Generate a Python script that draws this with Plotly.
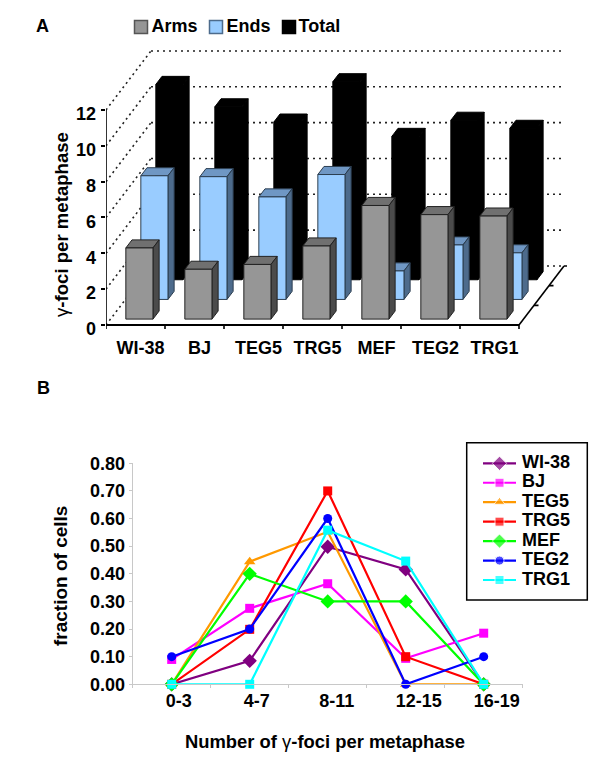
import plotly.graph_objects as go

FONT = "Liberation Sans"
W, H = 600, 766

# ---------- Panel A data ----------
cells = ["WI-38", "BJ", "TEG5", "TRG5", "MEF", "TEG2", "TRG1"]
arms = [3.97, 2.78, 3.05, 4.08, 6.34, 5.83, 5.75]
ends = [6.90, 6.85, 5.72, 6.97, 1.59, 3.04, 2.60]
total = [10.9, 9.65, 8.80, 11.05, 8.00, 8.90, 8.45]
y_ticks_a = [0, 2, 4, 6, 8, 10, 12]

# ---------- Panel B data ----------
bins = ["0-3", "4-7", "8-11", "12-15", "16-19"]
wi38 = [0.00, 0.085, 0.498, 0.416, 0.00]
bj = [0.09, 0.275, 0.364, 0.094, 0.185]
teg5 = [0.00, 0.444, 0.552, 0.00, 0.00]
trg5 = [0.00, 0.199, 0.70, 0.10, 0.00]
mef = [0.00, 0.40, 0.30, 0.30, 0.00]
teg2 = [0.10, 0.20, 0.60, 0.00, 0.10]
trg1 = [0.00, 0.00, 0.558, 0.446, 0.00]
y_ticks_b = [0, 0.1, 0.2, 0.3, 0.4, 0.5, 0.6, 0.7, 0.8]

# ---------- oblique projection for the 3-D look of panel A ----------
CAT_PX, UNIT_PX = 59.0, 17.92
DX = 15.0 / CAT_PX      # x shift per depth row
DY = 19.67 / UNIT_PX    # y shift per depth row
ROWS = 3


def proj(x, z, v):
    return x + z * DX, v + z * DY


def poly(points):
    xs, ys = [], []
    for (x, z, v) in points:
        a, b = proj(x, z, v)
        xs.append(a)
        ys.append(b)
    xs.append(xs[0]); ys.append(ys[0])
    return xs, ys


def faces(values, row):
    z0, z1 = row + 0.30, row + 0.71
    out = {"front": ([], []), "top": ([], []), "side": ([], [])}
    for i, v in enumerate(values):
        x0, x1 = i + 0.26, i + 0.72
        shapes = {
            "front": [(x0, z0, 0), (x1, z0, 0), (x1, z0, v), (x0, z0, v)],
            "top": [(x0, z0, v), (x1, z0, v), (x1, z1, v), (x0, z1, v)],
            "side": [(x1, z0, 0), (x1, z1, 0), (x1, z1, v), (x1, z0, v)],
        }
        for k, pts in shapes.items():
            xs, ys = poly(pts)
            out[k][0].extend(xs + [None])
            out[k][1].extend(ys + [None])
    return out


fig = go.Figure()


def line_trace(xs, ys, color="black", width=1.5, dash="solid"):
    fig.add_trace(go.Scatter(x=xs, y=ys, mode="lines", showlegend=False, hoverinfo="skip",
                             xaxis="x", yaxis="y", cliponaxis=False,
                             line=dict(color=color, width=width, dash=dash)))


# dotted wall gridlines
wall_x, wall_y = [], []
back_x, back_y = [], []
for v in y_ticks_a:
    a, b = proj(0, 0, v)
    c, d = proj(0, ROWS, v)
    wall_x += [a, c, None]
    wall_y += [b, d, None]
    e, f = proj(len(cells), ROWS, v)
    back_x += [c, e, None]
    back_y += [d, f, None]
line_trace(wall_x, wall_y, "#222222", 1.6, "2px,3.5px")
line_trace(back_x, back_y, "#222222", 1.6, "2px,4px")

# bars, back row first
series = [
    (total, 2, {"front": "#000000", "top": "#000000", "side": "#000000"}, "#000000"),
    (ends, 1, {"front": "#99CCFF", "top": "#6F97C4", "side": "#4D6B8C"}, "#2c3e50"),
    (arms, 0, {"front": "#969696", "top": "#707070", "side": "#4B4B4B"}, "#222222"),
]
for values, row, cols, edge in series:
    f = faces(values, row)
    for k in ("top", "side", "front"):
        fig.add_trace(go.Scatter(x=f[k][0], y=f[k][1], mode="lines", fill="toself",
                                 fillcolor=cols[k], showlegend=False, hoverinfo="skip",
                                 line=dict(color=edge, width=1), xaxis="x", yaxis="y"))

# axis lines of panel A (front x axis and its ticks, y axis, depth axis with ticks)
TICK_UNITS = 4 / UNIT_PX
line_trace([0, 0], [0, y_ticks_a[-1]], "black", 1.6)
line_trace([0, len(cells)], [0, 0], "black", 1.8)
ftx, fty = [], []
for i in range(len(cells) + 1):
    ftx += [i, i, None]
    fty += [0, -TICK_UNITS, None]
line_trace(ftx, fty, "black", 1.6)
dep_x0, dep_y0 = proj(len(cells), 0, 0)
dep_x1, dep_y1 = proj(len(cells), ROWS, 0)
line_trace([dep_x0, dep_x1], [dep_y0, dep_y1], "black", 1.6)
tx, ty = [], []
for r in range(1, ROWS + 1):
    a, b = proj(len(cells), r, 0)
    tx += [a, a + 4.5 / CAT_PX, None]
    ty += [b, b, None]
line_trace(tx, ty, "black", 1.6)

# ---------- Panel B ----------
lines_b = [
    ("WI-38", wi38, "#800080", "diamond", 11),
    ("BJ", bj, "#FF00FF", "square", 9),
    ("TEG5", teg5, "#FF9900", "triangle-up", 10),
    ("TRG5", trg5, "#FF0000", "square", 9),
    ("MEF", mef, "#00FF00", "diamond", 11),
    ("TEG2", teg2, "#0000FF", "circle", 9),
    ("TRG1", trg1, "#00FFFF", "square", 9),
]
for name, vals, col, sym, size in lines_b:
    fig.add_trace(go.Scatter(x=list(range(len(bins))), y=vals, mode="lines+markers", name=name,
                             xaxis="x2", yaxis="y2", showlegend=False, cliponaxis=False,
                             line=dict(color=col, width=2.2),
                             marker=dict(color=col, symbol=sym, size=size)))

# ---------- legends, drawn on a hidden page-sized overlay axis ----------
bold18 = dict(family=FONT, size=18, color="black", weight=700)
for i, (name, col, edge) in enumerate([("Arms", "#969696", "#555555"),
                                       ("Ends", "#99CCFF", "#4D6B8C"),
                                       ("Total", "#000000", "#000000")]):
    fig.add_trace(go.Scatter(x=[[141, 216, 289][i]], y=[27], mode="markers", xaxis="x3", yaxis="y3",
                             showlegend=False, cliponaxis=False, hoverinfo="skip",
                             marker=dict(symbol="square", size=13, color=col, line=dict(color=edge, width=1.5))))
    fig.add_trace(go.Scatter(x=[[151.5, 226.5, 298.5][i]], y=[27], mode="text", text=[name],
                             textposition="middle right", textfont=bold18, xaxis="x3", yaxis="y3",
                             showlegend=False, cliponaxis=False))
for i, (name, vals, col, sym, size) in enumerate(lines_b):
    row_y = 463.3 + i * 19.45
    fig.add_trace(go.Scatter(x=[483, 499.5, 516], y=[row_y] * 3, mode="lines+markers", xaxis="x3", yaxis="y3",
                             showlegend=False, cliponaxis=False, hoverinfo="skip",
                             line=dict(color=col, width=2.2),
                             marker=dict(color=col, symbol=sym, size=[0, size, 0])))
    fig.add_trace(go.Scatter(x=[522], y=[row_y], mode="text", text=[name], textposition="middle right",
                             textfont=bold18, xaxis="x3", yaxis="y3", showlegend=False, cliponaxis=False))

# ---------- layout ----------
A_LEFT, A_RIGHT, A_BOTTOM, A_TOP = 106, 567, 325, 45
B_LEFT, B_RIGHT, B_BOTTOM, B_TOP = 132.7, 522.7, 684.3, 463.3
A_PAD = 0.3                  # value units below zero so shifted labels stay in range
label_shift_a = 0.085        # category labels sit right of the category centre
label_drop_a = 0.22          # y labels sit slightly below their ticks
label_shift_b = [0.09, 0.09, 0.115, 0.167, 0.167]


def note(text, px, py, size=18, angle=0, anchor="center"):
    return dict(text=text, x=px / W, y=1 - py / H, xref="paper", yref="paper", xanchor=anchor,
                yanchor="middle", showarrow=False, textangle=angle,
                font=dict(family=FONT, size=size, color="black"))


fig.update_layout(
    width=W, height=H, margin=dict(l=0, r=0, t=0, b=0, autoexpand=False),
    paper_bgcolor="white", plot_bgcolor="rgba(0,0,0,0)",
    font=dict(family=FONT, color="black"),
    xaxis=dict(domain=[A_LEFT / W, A_RIGHT / W], range=[0, (A_RIGHT - A_LEFT) / CAT_PX],
               showgrid=False, zeroline=False, showline=False, ticks="",
               tickmode="array", tickvals=[i + 0.5 + label_shift_a for i in range(len(cells))],
               ticktext=cells, tickfont=bold18, ticklabelstandoff=5),
    yaxis=dict(domain=[1 - (A_BOTTOM + A_PAD * UNIT_PX) / H, 1 - A_TOP / H],
               range=[-A_PAD, (A_BOTTOM - A_TOP) / UNIT_PX],
               showgrid=False, zeroline=False, showline=False,
               tickmode="array", tickvals=[v - label_drop_a for v in y_ticks_a],
               ticktext=[str(v) for v in y_ticks_a], ticks="", ticklen=4, tickfont=bold18,
               ticklabelstandoff=9,
               minor=dict(tickmode="array", tickvals=y_ticks_a, ticks="outside", ticklen=4,
                          tickwidth=1.6, tickcolor="black", showgrid=False)),
    xaxis2=dict(domain=[B_LEFT / W, B_RIGHT / W], range=[-0.5, len(bins) - 0.5], anchor="y2",
                showgrid=False, zeroline=False, showline=True, linecolor="#c8c8c8", linewidth=1,
                tickmode="array", tickvals=[i + s for i, s in enumerate(label_shift_b)],
                ticktext=bins, ticks="", tickfont=bold18,
                minor=dict(tickmode="array", tickvals=[i - 0.5 for i in range(len(bins) + 1)],
                           ticks="outside", ticklen=3, tickwidth=1, tickcolor="#c8c8c8", showgrid=False)),
    yaxis2=dict(domain=[1 - B_BOTTOM / H, 1 - B_TOP / H], range=[0, 0.8], anchor="x2",
                showgrid=False, zeroline=False, showline=True, linecolor="#c8c8c8", linewidth=1,
                tickmode="array", tickvals=y_ticks_b, ticktext=[f"{v:.2f}" for v in y_ticks_b],
                ticks="outside", ticklen=3, tickwidth=1, tickcolor="#c8c8c8", tickfont=bold18),
    xaxis3=dict(domain=[0, 1], range=[0, W], visible=False, anchor="y3", fixedrange=True),
    yaxis3=dict(domain=[0, 1], range=[H, 0], visible=False, anchor="x3", fixedrange=True),
    shapes=[dict(type="rect", xref="x3", yref="y3", x0=466.7, x1=587.3, y0=442.7, y1=600,
                 line=dict(color="black", width=1.5), fillcolor="rgba(0,0,0,0)")],
    annotations=[
        note("<b>A</b>", 34, 26.5, anchor="left"),
        note("<b>B</b>", 35, 388, anchor="left"),
        note("γ<b>-foci per metaphase</b>", 62, 225, size=18.6, angle=-90),
        note("<b>fraction of cells</b>", 60, 576, size=19, angle=-90),
        note("<b>Number of </b>γ<b>-foci per metaphase</b>", 325, 741, size=18.4),
    ],
)

fig.write_html("out.html", config=dict(displayModeBar=False),
               post_script="document.body.style.margin='0';")
